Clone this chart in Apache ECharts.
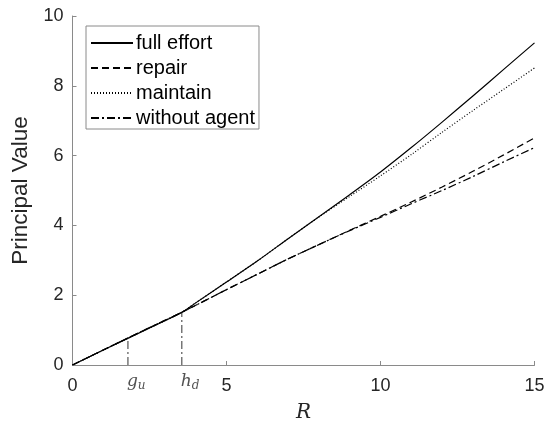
<!DOCTYPE html>
<html>
<head>
<meta charset="utf-8">
<script src="https://cdn.jsdelivr.net/npm/echarts@6/dist/echarts.min.js"></script>
<style>html,body{margin:0;padding:0;background:#fff;}#c{width:549px;height:428px;}</style>
</head>
<body>
<div id="c"></div>
<script>
const xValues = [0, 1, 2, 3, 3.55, 4, 5, 6, 7, 8, 9, 10, 11, 12, 13, 14, 15];
const fullEffort = [0, 0.43, 0.85, 1.27, 1.51, 1.78, 2.38, 2.98, 3.62, 4.25, 4.88, 5.53, 6.23, 6.96, 7.71, 8.47, 9.23];
const repair = [0, 0.43, 0.86, 1.28, 1.51, 1.71, 2.16, 2.6, 3.04, 3.45, 3.86, 4.26, 4.67, 5.1, 5.55, 6.02, 6.51];
const maintain = [0, 0.43, 0.85, 1.27, 1.51, 1.78, 2.38, 2.98, 3.62, 4.24, 4.83, 5.42, 6.03, 6.67, 7.29, 7.9, 8.51];
const withoutAgent = [0, 0.43, 0.86, 1.28, 1.51, 1.71, 2.16, 2.6, 3.04, 3.45, 3.85, 4.23, 4.62, 5.0, 5.4, 5.82, 6.23];
const seriesNames = ['full effort', 'repair', 'maintain', 'without agent'];
const markerX = [1.8, 3.55];
const markerY = [0.77, 1.51];
const markerLabels = ['{i|g}{s|u}', '{i|h}{s|d}'];
const xTicks = [0, 5, 10, 15];
const yTicks = [0, 2, 4, 6, 8, 10];

function pairs(ys) { return xValues.map((x, i) => [x, ys[i]]); }

const chart = echarts.init(document.getElementById('c'), null, {renderer: 'canvas'});
const axisColor = '#8a8a8a';
const textColor = '#262626';
const dashDot = [8, 3, 2, 3];

const lineSeries = [
  {name: seriesNames[0], data: pairs(fullEffort), type: 'line', lineStyle: {type: 'solid'}},
  {name: seriesNames[1], data: pairs(repair), type: 'line', lineStyle: {type: [7, 4]}},
  {name: seriesNames[2], data: pairs(maintain), type: 'line', lineStyle: {type: [1, 2]}},
  {name: seriesNames[3], data: pairs(withoutAgent), type: 'line', lineStyle: {type: dashDot}}
].map(s => Object.assign(s, {
  symbol: 'none', smooth: 0.3, silent: true, z: 3,
  itemStyle: {color: '#000'},
  lineStyle: Object.assign({color: '#000', width: 1.2}, s.lineStyle)
}));

const markerLines = markerX.map((x, i) => ({
  type: 'line', symbol: 'none', silent: true, z: 2,
  data: [[x, 0], [x, markerY[i]]],
  lineStyle: {color: '#333', width: 1, type: dashDot}
}));

const markerText = {
  type: 'scatter', symbolSize: 0, silent: true,
  data: markerX.map((x, i) => ({value: [x, 0], label: {formatter: markerLabels[i]}})),
  label: {
    show: true, position: [-1, 6], align: 'left', verticalAlign: 'top', color: textColor,
    rich: {
      i: {fontFamily: 'DejaVu Serif, serif', fontStyle: 'italic', fontSize: 17, color: textColor},
      s: {fontFamily: 'DejaVu Serif, serif', fontStyle: 'italic', fontSize: 12, color: textColor, padding: [9, 0, 0, 0]}
    }
  }
};

chart.setOption({
  animation: false,
  backgroundColor: '#fff',
  grid: {left: 72.5, right: 14.5, top: 16, bottom: 62},
  legend: {
    data: seriesNames,
    orient: 'vertical', left: 86, top: 26,
    itemWidth: 42, itemHeight: 12, itemGap: 5,
    padding: [7, 4, 1, 4],
    itemStyle: {opacity: 0},
    borderColor: axisColor, borderWidth: 1, backgroundColor: '#fff',
    textStyle: {fontFamily: 'Liberation Sans, Arial, sans-serif', fontSize: 20, color: '#000', padding: [0, 0, 0, -2]},
    selectedMode: false
  },
  xAxis: {
    type: 'value', min: 0, max: 15, interval: 5,
    name: 'R', nameLocation: 'middle', nameGap: 38,
    nameTextStyle: {fontFamily: 'DejaVu Serif, serif', fontStyle: 'italic', fontSize: 20, color: textColor},
    axisLine: {show: true, lineStyle: {color: axisColor, width: 1}},
    axisTick: {show: true, inside: true, length: 4, lineStyle: {color: axisColor}},
    axisLabel: {fontFamily: 'Liberation Sans, Arial, sans-serif', fontSize: 18, color: textColor, margin: 12,
      formatter: v => xTicks.includes(v) ? String(v) : ''},
    splitLine: {show: false}
  },
  yAxis: {
    type: 'value', min: 0, max: 10, interval: 2,
    name: 'Principal Value', nameLocation: 'middle', nameGap: 40,
    nameTextStyle: {fontFamily: 'Liberation Sans, Arial, sans-serif', fontSize: 22.5, color: textColor},
    axisLine: {show: true, lineStyle: {color: axisColor, width: 1}},
    axisTick: {show: true, inside: true, length: 4, lineStyle: {color: axisColor}},
    axisLabel: {fontFamily: 'Liberation Sans, Arial, sans-serif', fontSize: 18, color: textColor, margin: 9,
      formatter: v => yTicks.includes(v) ? String(v) : ''},
    splitLine: {show: false}
  },
  series: lineSeries.concat(markerLines, [markerText])
});
</script>
</body>
</html>
